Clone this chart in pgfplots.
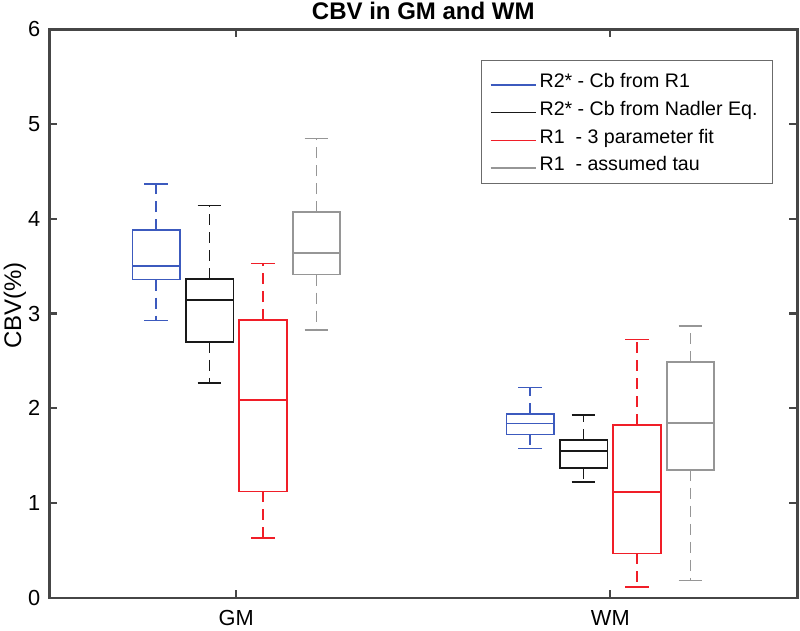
\documentclass[border=0pt]{standalone}
\usepackage{fontspec}
\setmainfont{Liberation Sans}
\usepackage{pgfplots}
\pgfplotsset{compat=1.18}
\usepgfplotslibrary{statistics}
\definecolor{cblue}{RGB}{60,90,190}
\definecolor{cred}{RGB}{240,30,40}
\definecolor{cgray}{RGB}{150,150,150}
\definecolor{cblack}{RGB}{25,25,25}
\definecolor{axgray}{RGB}{70,70,70}
\pgfplotsset{
  mybox/.style={
    line width=1.6pt, solid, forget plot,
    boxplot/draw direction=y,
    boxplot/draw/lower whisker/.code={
      \draw[dash pattern=on 11pt off 7pt] (boxplot box cs:\pgfplotsboxplotvalue{lower quartile},0.5) -- (boxplot box cs:\pgfplotsboxplotvalue{lower whisker},0.5);
      \draw[solid] (boxplot box cs:\pgfplotsboxplotvalue{lower whisker},0.25) -- (boxplot box cs:\pgfplotsboxplotvalue{lower whisker},0.75);
    },
    boxplot/draw/upper whisker/.code={
      \draw[dash pattern=on 11pt off 7pt] (boxplot box cs:\pgfplotsboxplotvalue{upper quartile},0.5) -- (boxplot box cs:\pgfplotsboxplotvalue{upper whisker},0.5);
      \draw[solid] (boxplot box cs:\pgfplotsboxplotvalue{upper whisker},0.25) -- (boxplot box cs:\pgfplotsboxplotvalue{upper whisker},0.75);
    },
  }
}
\newcommand{\legline}[1]{\addlegendimage{legend image code/.code={\draw[#1, line width=1.6pt, solid] (0pt,-4.5pt) -- (45pt,-4.5pt);}}}
\begin{document}
\begin{tikzpicture}
\useasboundingbox (0,0) rectangle (800pt,630pt);
\begin{axis}[
  at={(49.3pt,32.3pt)}, anchor=south west,
  scale only axis, width=748pt, height=568.4pt,
  xmin=0.5, xmax=2.5, ymin=0, ymax=6,
  xtick={1,2}, xticklabels={GM,WM}, ytick={0,1,2,3,4,5,6},
  tick align=inside, major tick length=8pt,
  separate axis lines,
  axis x line*=box, axis y line*=box,
  every outer x axis line/.append style={axgray, line width=2.4pt, line cap=rect},
  every outer y axis line/.append style={axgray, line width=2.4pt, line cap=rect},
  tick style={axgray, line width=2.2pt},
  /pgf/number format/assume math mode=true,
  tick label style={font=\fontsize{21.8}{26}\selectfont},
  xticklabel style={inner sep=0pt, anchor=north, yshift=-12.5pt},
  yticklabel style={inner sep=0pt, anchor=east, xshift=-8.8pt},
  title={CBV in GM and WM},
  title style={font=\fontsize{24}{28}\selectfont\bfseries, at={(axis description cs:0.5,1)}, anchor=base, yshift=3.5pt},
  ylabel={CBV(\%)},
  ylabel style={font=\fontsize{24}{28}\selectfont, at={(axis description cs:-0.0459,0.514)}, anchor=center},
  legend style={at={(rel axis cs:0.9675,0.946)}, anchor=north east, draw=axgray!80, line width=1pt, fill=white,
    font=\fontsize{19.6}{23}\selectfont, inner xsep=8.4pt, inner ysep=10pt, row sep=8.3pt,
    nodes={inner sep=0pt, text height=17pt, text depth=2.5pt},
    /tikz/every odd column/.append style={column sep=3.3pt}},
  legend cell align=left,
]
% GM
\addplot[mybox, color=cblue, boxplot prepared={draw position=0.7857, lower whisker=2.926, lower quartile=3.358, median=3.502, upper quartile=3.879, upper whisker=4.364, box extend=0.127}] coordinates {};
\addplot[mybox, color=cblack, boxplot prepared={draw position=0.9286, lower whisker=2.265, lower quartile=2.70, median=3.14, upper quartile=3.367, upper whisker=4.14, box extend=0.127}] coordinates {};
\addplot[mybox, color=cred, boxplot prepared={draw position=1.0714, lower whisker=0.633, lower quartile=1.122, median=2.089, upper quartile=2.929, upper whisker=3.527, box extend=0.127}] coordinates {};
\addplot[mybox, color=cgray, boxplot prepared={draw position=1.2143, lower whisker=2.824, lower quartile=3.411, median=3.64, upper quartile=4.069, upper whisker=4.849, box extend=0.127}] coordinates {};
% WM
\addplot[mybox, color=cblue, boxplot prepared={draw position=1.7857, lower whisker=1.576, lower quartile=1.723, median=1.839, upper quartile=1.941, upper whisker=2.219, box extend=0.127}] coordinates {};
\addplot[mybox, color=cblack, boxplot prepared={draw position=1.9286, lower whisker=1.224, lower quartile=1.368, median=1.547, upper quartile=1.667, upper whisker=1.930, box extend=0.127}] coordinates {};
\addplot[mybox, color=cred, boxplot prepared={draw position=2.0714, lower whisker=0.113, lower quartile=0.468, median=1.118, upper quartile=1.825, upper whisker=2.726, box extend=0.127}] coordinates {};
\addplot[mybox, color=cgray, boxplot prepared={draw position=2.2143, lower whisker=0.183, lower quartile=1.350, median=1.846, upper quartile=2.490, upper whisker=2.869, box extend=0.127}] coordinates {};
\legline{cblue}
\addlegendentry{R2* - Cb from R1}
\legline{cblack}
\addlegendentry{R2* - Cb from Nadler Eq.\hspace*{6.6pt}}
\legline{cred}
\addlegendentry{R1\ \ - 3 parameter fit}
\legline{cgray}
\addlegendentry{R1\ \ - assumed tau}
\end{axis}
\end{tikzpicture}
\end{document}
